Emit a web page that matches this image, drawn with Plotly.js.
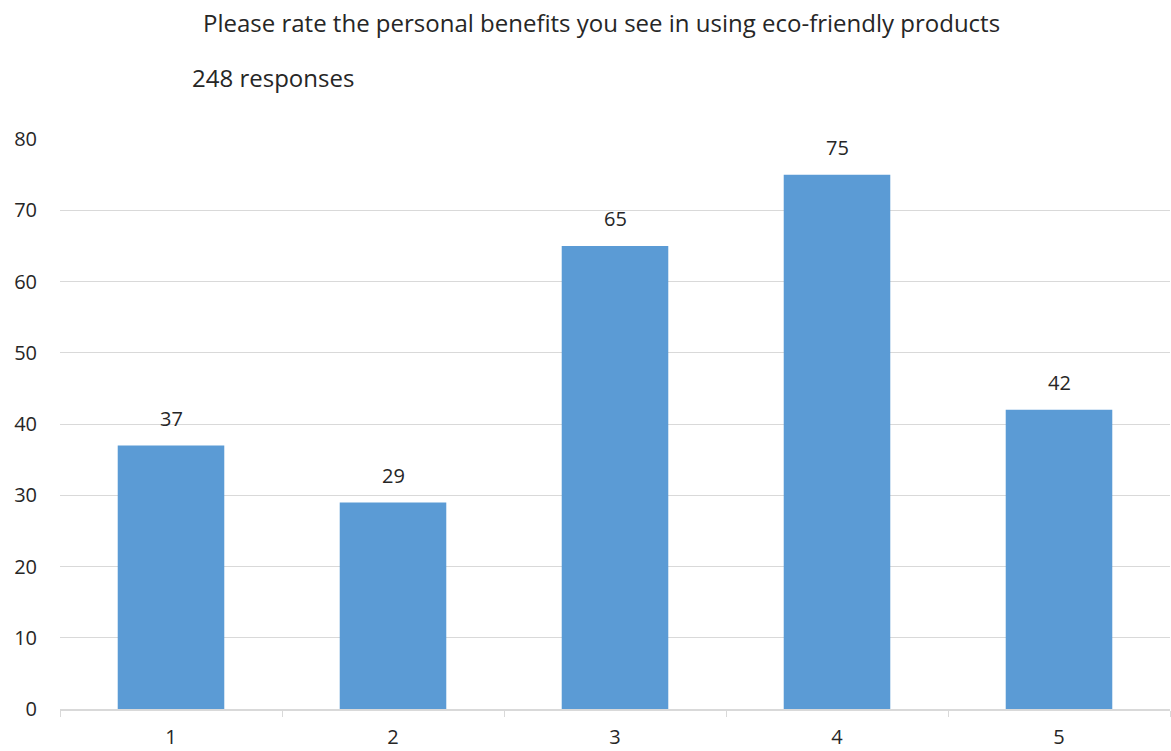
<!DOCTYPE html>
<html>
<head>
<meta charset="utf-8">
<script src="https://cdn.plot.ly/plotly-3.0.1.min.js"></script>
<style>
  html, body { margin: 0; padding: 0; background: #ffffff; }
  #chart { width: 1171px; height: 751px; }
</style>
</head>
<body>
<div id="chart"></div>
<script>
// Survey ratings (1 = lowest, 5 = highest) and how many respondents chose each
const ratings = ['1', '2', '3', '4', '5'];
const counts = [37, 29, 65, 75, 42];
const yTicks = [0, 10, 20, 30, 40, 50, 60, 70, 80];

const chartTitle = 'Please rate the personal benefits you see in using eco-friendly products';
const subtitle = '248 responses';

const FONT = 'Open Sans, Noto Sans, sans-serif';
const INK = '#262626';

const bars = {
  type: 'bar',
  x: ratings,
  y: counts,
  marker: { color: '#5b9bd5', line: { width: 0 } },
  hoverinfo: 'x+y'
};

// value labels floating above each bar (x given as category index)
const valueLabels = counts.map((v, i) => ({
  x: i,
  y: v,
  xref: 'x',
  yref: 'y',
  text: String(v),
  showarrow: false,
  yanchor: 'middle',
  yshift: 27,
  font: { family: FONT, size: 20, color: INK }
}));

const layout = {
  width: 1171,
  height: 751,
  paper_bgcolor: '#ffffff',
  plot_bgcolor: '#ffffff',
  margin: { l: 60, r: 1, t: 139, b: 42 },
  showlegend: false,
  bargap: 0.52,
  font: { family: FONT, color: INK },
  xaxis: {
    type: 'category',
    range: [-0.5, 4.5],
    tickson: 'boundaries',
    ticks: 'outside',
    ticklen: 6,
    tickwidth: 1,
    tickcolor: '#d9d9d9',
    showline: true,
    linecolor: '#d9d9d9',
    linewidth: 2,
    showgrid: false,
    zeroline: false,
    ticklabelstandoff: 9,
    tickfont: { family: FONT, size: 20, color: INK },
    fixedrange: true
  },
  yaxis: {
    range: [0, 80],
    tickvals: yTicks,
    ticktext: yTicks.map(String),
    showgrid: true,
    gridcolor: '#d9d9d9',
    gridwidth: 1,
    zeroline: false,
    showline: false,
    ticks: '',
    ticklabelstandoff: 22,
    tickfont: { family: FONT, size: 20, color: INK },
    fixedrange: true
  },
  annotations: [
    {
      text: chartTitle,
      xref: 'paper', yref: 'paper',
      x: 0.488, y: 1,
      xanchor: 'center', yanchor: 'middle',
      yshift: 117,
      showarrow: false,
      font: { family: FONT, size: 24, color: INK }
    },
    {
      text: subtitle,
      xref: 'paper', yref: 'paper',
      x: 0.117, y: 1,
      xanchor: 'left', yanchor: 'middle',
      yshift: 62,
      showarrow: false,
      font: { family: FONT, size: 24, color: INK }
    }
  ].concat(valueLabels)
};

Plotly.newPlot('chart', [bars], layout, { displayModeBar: false, staticPlot: true });
</script>
</body>
</html>
